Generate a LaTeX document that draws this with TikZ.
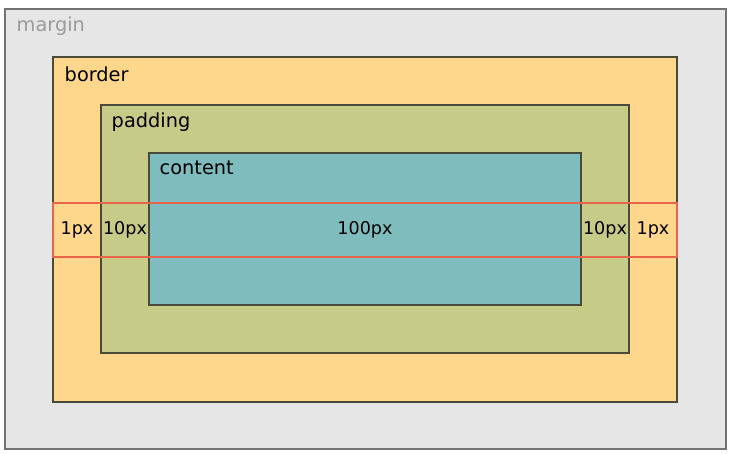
\documentclass[tikz,border=0pt]{standalone}
\usepackage{fontspec}
\setmainfont{DejaVu Sans}
\usetikzlibrary{positioning}

\definecolor{marginfill}{HTML}{E6E6E6}
\definecolor{borderfill}{HTML}{FFD78C}
\definecolor{paddingfill}{HTML}{C6CB87}
\definecolor{contentfill}{HTML}{7FBCBD}
\definecolor{stripred}{HTML}{E8644A}
\definecolor{edgedark}{HTML}{4A4A3A}
\definecolor{labelgray}{HTML}{9A9A9A}

\tikzset{
  layer/.style={draw=edgedark, line width=0.7pt, inner sep=0pt},
  layerlabel/.style={anchor=base west, inner sep=0pt,
    font=\fontsize{11}{13}\selectfont},
  sizelabel/.style={inner sep=0pt, font=\fontsize{10}{12}\selectfont},
}

\begin{document}
\begin{tikzpicture}
\useasboundingbox (0,0) rectangle (14.66,9.06);

% nested boxes of the box model
\node[layer, draw=black!55, fill=marginfill, minimum width=14.42cm, minimum height=8.8cm]
  (margin) at (7.31,4.48) {};
\node[layer, fill=borderfill, minimum width=12.48cm, minimum height=6.9cm]
  (border) at (7.3,4.47) {};
\node[layer, fill=paddingfill, minimum width=10.56cm, minimum height=4.96cm]
  (padding) at (7.3,4.48) {};
\node[layer, fill=contentfill, minimum width=8.64cm, minimum height=3.04cm]
  (content) at (7.3,4.48) {};

% names of the layers
\node[layerlabel, text=labelgray] (marginlbl) at ([xshift=0.24cm,yshift=-0.46cm]margin.north west) {margin};
\node[layerlabel] (borderlbl) at ([xshift=0.24cm,yshift=-0.5cm]border.north west) {border};
\node[layerlabel] (paddinglbl) at ([xshift=0.22cm,yshift=-0.46cm]padding.north west) {padding};
\node[layerlabel] (contentlbl) at ([xshift=0.22cm,yshift=-0.44cm]content.north west) {content};

% the measured row
\node[draw=stripred, line width=1pt, inner sep=0pt, minimum width=12.48cm, minimum height=1.08cm]
  (strip) at (7.3,4.46) {};
\node[sizelabel] (borderleft) at ([xshift=-5.76cm]strip.center) {1px};
\node[sizelabel] (padleft) at ([xshift=-4.8cm]strip.center) {10px};
\node[sizelabel] (contentwidth) at (strip.center) {100px};
\node[sizelabel] (padright) at ([xshift=4.8cm]strip.center) {10px};
\node[sizelabel] (borderright) at ([xshift=5.76cm]strip.center) {1px};
\end{tikzpicture}
\end{document}
